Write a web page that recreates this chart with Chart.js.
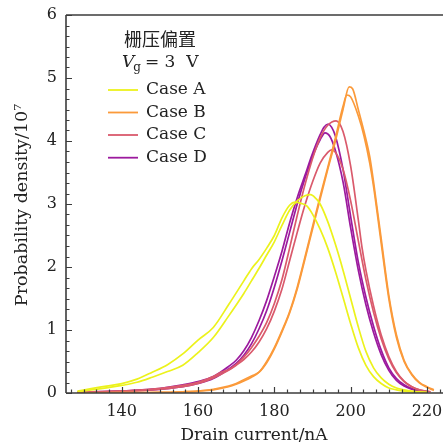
<!DOCTYPE html>
<html><head><meta charset="utf-8">
<script src="https://cdn.jsdelivr.net/npm/chart.js@4.4.1/dist/chart.umd.min.js"></script>
<style>html,body{margin:0;padding:0;background:#fff}#wrap{width:443px;height:447px;position:relative}</style>
</head><body><div id="wrap"><canvas id="c" width="443" height="447"></canvas></div>
<script>
// ---- data (x: drain current nA, y: probability density /1e7) ----
const caseA1 = [[128.4,0.03],[132,0.07],[136,0.11],[140,0.15],[144,0.22],[148,0.33],[152,0.45],[156,0.62],[160,0.84],[164,1.04],[168,1.40],[172,1.78],[174,1.97],[176,2.12],[178,2.30],[180,2.50],[182,2.78],[184,2.98],[185.4,3.03],[187,3.01],[188.5,2.97],[190,2.84],[192,2.60],[194,2.30],[196,1.93],[198,1.52],[200,1.10],[202,0.72],[204,0.44],[206,0.26],[208,0.15],[210,0.08],[212,0.05],[214,0.03],[216,0.02],[218,0.01],[220,0.005]];
const caseA2 = [[128.4,0.02],[132,0.05],[136,0.08],[140,0.12],[144,0.17],[148,0.25],[152,0.34],[156,0.44],[160,0.64],[164,0.88],[168,1.22],[172,1.58],[174,1.78],[176,1.98],[178,2.19],[180,2.40],[182,2.66],[184,2.90],[186,3.05],[188,3.13],[189.5,3.15],[191,3.08],[192,3.00],[194,2.72],[196,2.36],[198,1.95],[200,1.50],[202,1.05],[204,0.66],[206,0.40],[208,0.24],[210,0.14],[212,0.08],[214,0.05],[216,0.03],[218,0.02],[220,0.01]];
const caseB1 = [[129,0.0],[140,0.005],[150,0.01],[156,0.02],[160,0.03],[164,0.06],[168,0.11],[170,0.15],[172,0.21],[174,0.27],[176,0.33],[178,0.48],[180,0.70],[182,0.97],[184,1.27],[186,1.65],[188,2.12],[190,2.60],[192,3.08],[194,3.55],[196,4.00],[198,4.50],[199.6,4.86],[200.5,4.83],[202,4.50],[203.5,4.15],[205,3.75],[206,3.35],[208,2.45],[210,1.55],[212,0.92],[214,0.52],[216,0.30],[218,0.17],[220,0.10],[221.8,0.05]];
const caseB2 = [[129,0.0],[140,0.005],[150,0.01],[156,0.02],[160,0.03],[164,0.05],[168,0.10],[170,0.14],[172,0.19],[174,0.25],[176,0.33],[178,0.50],[180,0.72],[182,0.99],[184,1.29],[186,1.68],[188,2.15],[190,2.64],[192,3.12],[194,3.58],[196,4.05],[198,4.55],[199,4.73],[200,4.70],[202,4.40],[203.5,4.08],[205,3.65],[206,3.28],[208,2.38],[210,1.50],[212,0.88],[214,0.50],[216,0.29],[218,0.16],[220,0.09],[221.8,0.04]];
const caseC1 = [[128.4,0.01],[140,0.03],[148,0.06],[156,0.12],[160,0.17],[164,0.26],[166,0.33],[168,0.37],[170,0.45],[172,0.57],[174,0.72],[176,0.90],[178,1.12],[180,1.42],[182,1.80],[184,2.30],[186,2.82],[188,3.30],[190,3.72],[192,4.05],[194,4.25],[196.2,4.32],[198,4.15],[200,3.60],[202,2.75],[203,2.30],[204,1.95],[206,1.38],[208,0.92],[210,0.58],[212,0.34],[214,0.19],[216,0.10],[218,0.05],[220,0.03],[221,0.02]];
const caseC2 = [[128.4,0.01],[140,0.03],[148,0.05],[156,0.10],[160,0.15],[164,0.24],[168,0.36],[170,0.44],[172,0.53],[174,0.65],[176,0.81],[178,1.02],[180,1.30],[182,1.65],[184,2.10],[186,2.55],[188,2.98],[190,3.35],[192,3.65],[194,3.82],[195,3.86],[196,3.82],[198,3.55],[200,3.05],[202,2.42],[204,1.80],[206,1.28],[208,0.86],[210,0.54],[212,0.32],[214,0.18],[216,0.10],[218,0.05],[220,0.02]];
const caseD1 = [[128.4,0.01],[136,0.02],[140,0.03],[148,0.06],[152,0.09],[156,0.13],[160,0.18],[164,0.26],[168,0.42],[170,0.52],[172,0.67],[174,0.88],[176,1.15],[178,1.47],[180,1.85],[182,2.25],[184,2.70],[186,3.10],[188,3.45],[190,3.80],[192,4.10],[193,4.22],[194.1,4.27],[195,4.22],[196,4.08],[198,3.55],[200,2.80],[202,2.08],[204,1.52],[206,1.06],[208,0.68],[210,0.40],[212,0.23],[214,0.13],[216,0.07],[218,0.04],[220,0.02]];
const caseD2 = [[128.4,0.01],[140,0.03],[148,0.05],[156,0.10],[160,0.15],[164,0.23],[168,0.38],[170,0.47],[172,0.60],[174,0.78],[176,1.02],[178,1.31],[180,1.68],[182,2.10],[184,2.55],[186,3.00],[188,3.40],[190,3.75],[192,4.02],[193.3,4.13],[194.5,4.08],[196,3.85],[198,3.35],[200,2.62],[202,1.95],[204,1.40],[206,0.96],[208,0.61],[210,0.36],[212,0.20],[214,0.11],[216,0.06],[218,0.03],[220,0.01]];

const caseNames = ["Case A","Case B","Case C","Case D"];
const caseColors = ["#ecf21c","#fb9a3a","#da5a6c","#9c1a9e"];
const curves = [caseA1,caseA2,caseB1,caseB2,caseC1,caseC2,caseD1,caseD2];
const curveCase = [0,0,1,1,2,2,3,3];
const xTicks = [140,160,180,200,220];
const yTicks = [0,1,2,3,4,5,6];
const xRange = [125.4,224.2];
const yRange = [0,6];
const xTitle = "Drain current/nA";
const yTitle = "Probability density/10\u2077";
const legendTitle = "栅压偏置";

const AXC = "#3c3c3c";
const SERIF = "'DejaVu Serif', serif";

const decor = {
  id:'decor',
  afterDraw(chart){
    const {ctx, chartArea:a, scales:{x,y}} = chart;
    ctx.save();
    ctx.strokeStyle = AXC; ctx.lineWidth = 1.6;
    ctx.beginPath();
    ctx.moveTo(a.left, a.top); ctx.lineTo(a.right, a.top);
    ctx.moveTo(a.left, a.top); ctx.lineTo(a.left, a.bottom);
    ctx.moveTo(a.left, a.bottom); ctx.lineTo(a.right, a.bottom);
    ctx.stroke();
    ctx.lineWidth = 1.2;
    ctx.beginPath();
    for(let i=0;i<=36;i++){
      const v = i/6; const py = Math.round(y.getPixelForValue(v))+0.5;
      const len = (i%6===0)?6:3.5;
      ctx.moveTo(a.left, py); ctx.lineTo(a.left+len, py);
    }
    for(let k=-5;k<=30;k++){
      const v = 140 + k*20/6;
      if(v < xRange[0] || v > xRange[1]) continue;
      const px = Math.round(x.getPixelForValue(v))+0.5;
      const len = (k%6===0)?6:3.5;
      ctx.moveTo(px, a.bottom); ctx.lineTo(px, a.bottom-len);
    }
    ctx.stroke();
    ctx.fillStyle = "#222";
    ctx.font = "17px " + SERIF;
    ctx.textAlign = "center"; ctx.textBaseline = "middle";
    ctx.fillText(xTitle, 254, 436);
    ctx.save(); ctx.translate(22, 205); ctx.rotate(-Math.PI/2);
    ctx.font = "17.5px " + SERIF;
    ctx.fillText(yTitle, 0, 0); ctx.restore();
    ctx.font = "18px 'Noto Sans CJK SC'";
    ctx.fillText(legendTitle, 160, 39);
    ctx.textAlign = "left"; ctx.textBaseline = "alphabetic";
    let cx = 122; const by = 67;
    ctx.font = "italic 17px " + SERIF; ctx.fillText("V", cx, by); cx += ctx.measureText("V").width - 1;
    ctx.font = "12px " + SERIF; ctx.fillText("g", cx, by+4); cx += ctx.measureText("g").width + 4;
    ctx.font = "17px " + SERIF; ctx.fillText("= 3  V", cx, by);
    ctx.textBaseline = "middle";
    const rows = [90, 112.5, 135, 157.7];
    caseNames.forEach((n,i)=>{
      ctx.strokeStyle = caseColors[i]; ctx.lineWidth = 1.8;
      ctx.beginPath(); ctx.moveTo(108, rows[i]); ctx.lineTo(138, rows[i]); ctx.stroke();
      ctx.fillStyle = "#222"; ctx.font = "17px " + SERIF;
      ctx.fillText(n, 146, rows[i]);
    });
    ctx.restore();
  }
};

new Chart(document.getElementById('c'), {
  type:'line',
  data:{
    datasets: curves.map((c,i)=>({
      label: caseNames[curveCase[i]],
      data: c.map(p=>({x:p[0], y:p[1]})),
      borderColor: caseColors[curveCase[i]],
      borderWidth: 1.7,
      pointRadius: 0,
      cubicInterpolationMode: 'monotone',
      fill:false
    }))
  },
  options:{
    responsive:false, animation:false, devicePixelRatio:1,
    layout:{padding:{top:15,right:0,left:0,bottom:0}},
    plugins:{legend:{display:false}, tooltip:{enabled:false}},
    scales:{
      x:{type:'linear', min:xRange[0], max:xRange[1],
         afterBuildTicks: s=>{ s.ticks = xTicks.map(v=>({value:v})); },
         afterFit: s=>{ s.height = 54; s.paddingLeft = 0; s.paddingRight = 0; },
         grid:{display:false, drawTicks:false}, border:{display:false},
         ticks:{color:"#222", padding:9, maxRotation:0, font:{family:"DejaVu Serif", size:16}}},
      y:{type:'linear', min:yRange[0], max:yRange[1],
         afterBuildTicks: s=>{ s.ticks = yTicks.map(v=>({value:v})); },
         afterFit: s=>{ s.width = 66; s.paddingTop = 0; s.paddingBottom = 0; },
         grid:{display:false, drawTicks:false}, border:{display:false},
         ticks:{color:"#222", padding:9, font:{family:"DejaVu Serif", size:16}}}
    }
  },
  plugins:[decor]
});
</script></body></html>
